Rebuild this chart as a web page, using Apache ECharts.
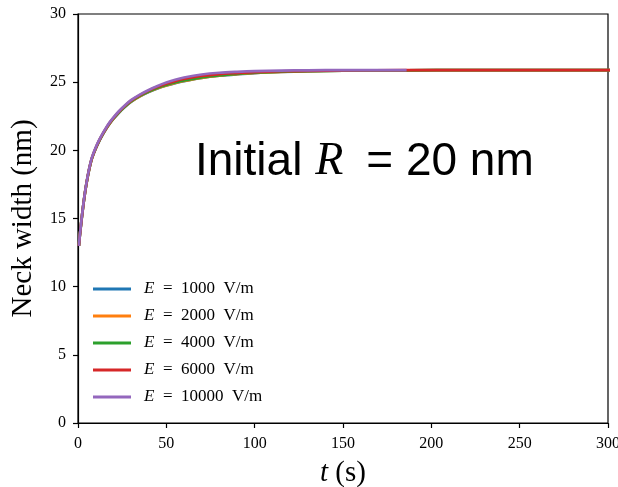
<!DOCTYPE html>
<html>
<head>
<meta charset="utf-8">
<script src="https://cdn.jsdelivr.net/npm/echarts@6/dist/echarts.min.js"></script>
<style>
  html, body { margin: 0; padding: 0; background: #fff; overflow: hidden; }
  #chart { width: 618px; height: 487px; }
</style>
</head>
<body>
<div id="chart"></div>
<script>
// Neck width growth over time for several applied fields (initial R = 20 nm)
const timeS = [0.5, 1, 2, 3, 4, 5, 6, 7, 8, 10, 12, 14, 16, 18, 20, 23, 26, 30, 35, 40, 45, 50, 55, 60, 70, 80, 90, 100, 115, 130, 150, 186, 220, 260, 300, 320];

const neckE1000  = [13.0, 13.7, 14.9, 15.98, 16.92, 17.71, 18.40, 18.98, 19.45, 20.12, 20.68, 21.16, 21.59, 21.97, 22.30, 22.74, 23.13, 23.56, 23.96, 24.28, 24.54, 24.75, 24.93, 25.08, 25.31, 25.47, 25.58, 25.67, 25.75, 25.80, 25.84, 25.87, 25.88, 25.88, 25.88, 25.88];
const neckE2000  = [13.0, 13.7, 14.9, 15.98, 16.92, 17.71, 18.40, 18.98, 19.45, 20.13, 20.69, 21.17, 21.60, 21.98, 22.31, 22.75, 23.14, 23.57, 23.97, 24.29, 24.55, 24.76, 24.94, 25.09, 25.32, 25.48, 25.59, 25.68, 25.76, 25.80, 25.84, 25.87, 25.88, 25.88, 25.88, 25.88];
const neckE4000  = [13.0, 13.7, 14.9, 15.98, 16.93, 17.72, 18.41, 18.99, 19.47, 20.14, 20.70, 21.18, 21.61, 21.99, 22.32, 22.76, 23.15, 23.59, 24.00, 24.32, 24.59, 24.80, 24.98, 25.12, 25.35, 25.50, 25.61, 25.69, 25.77, 25.81, 25.85, 25.87, 25.88, 25.88, 25.88, 25.88];
const neckE6000  = [13.0, 13.7, 14.9, 15.98, 16.93, 17.73, 18.43, 19.01, 19.48, 20.16, 20.73, 21.21, 21.64, 22.03, 22.36, 22.81, 23.20, 23.64, 24.05, 24.38, 24.66, 24.89, 25.08, 25.23, 25.45, 25.59, 25.67, 25.74, 25.80, 25.83, 25.86, 25.88, 25.88, 25.88, 25.88, 25.88];
const neckE10000 = [13.0, 13.72, 14.93, 16.02, 16.97, 17.76, 18.46, 19.05, 19.52, 20.20, 20.76, 21.25, 21.68, 22.07, 22.40, 22.85, 23.24, 23.68, 24.09, 24.43, 24.72, 24.97, 25.18, 25.34, 25.56, 25.69, 25.76, 25.81, 25.85, 25.87, 25.88, 25.89];

const seriesNames = ['E = 1000 V/m', 'E = 2000 V/m', 'E = 4000 V/m', 'E = 6000 V/m', 'E = 10000 V/m'];
const seriesValues = [neckE1000, neckE2000, neckE4000, neckE6000, neckE10000];
const seriesColors = ['#1f77b4', '#ff7f0e', '#2ca02c', '#d62728', '#9467bd'];

const xTicks = [0, 50, 100, 150, 200, 250, 300];
const yTicks = [0, 5, 10, 15, 20, 25, 30];

const SERIF = '"Liberation Serif", "DejaVu Serif", serif';
const SANS = '"Liberation Sans", Arial, sans-serif';

const chart = echarts.init(document.getElementById('chart'), null, { renderer: 'canvas' });

const series = seriesNames.map((name, k) => ({
  name: name,
  type: 'line',
  data: seriesValues[k].map((v, i) => [timeS[i], v]),
  showSymbol: false,
  smooth: 0.3,
  clip: false,
  color: seriesColors[k],
  lineStyle: { width: 2.7, color: seriesColors[k] },
  emphasis: { disabled: true }
}));

const axisCommon = {
  axisLine: { show: true, onZero: false, lineStyle: { color: '#000', width: 1.2 } },
  axisTick: { show: true, inside: false, length: 5, lineStyle: { color: '#000', width: 1.2 } },
  splitLine: { show: false },
};

chart.setOption({
  animation: false,
  backgroundColor: '#fff',
  grid: {
    left: 78, top: 14, right: 10, bottom: 64, containLabel: false,
    outerBoundsMode: 'none',
    show: true, borderColor: '#000', borderWidth: 1.2, backgroundColor: 'transparent'
  },
  xAxis: Object.assign({
    type: 'value',
    min: xTicks[0],
    max: xTicks[xTicks.length - 1],
    interval: 50,
    axisLabel: { color: '#000', fontFamily: SERIF, fontSize: 16, margin: 13 },
    name: '{i|t} (s)',
    nameLocation: 'middle',
    nameGap: 36,
    nameTextStyle: {
      color: '#000', fontFamily: SERIF, fontSize: 29,
      rich: { i: { fontStyle: 'italic', fontFamily: SERIF, fontSize: 29, color: '#000' } }
    }
  }, axisCommon),
  yAxis: Object.assign({
    type: 'value',
    min: yTicks[0],
    max: yTicks[yTicks.length - 1],
    interval: 5,
    axisLabel: { color: '#000', fontFamily: SERIF, fontSize: 16, margin: 12 },
    name: 'Neck width (nm)',
    nameLocation: 'middle',
    nameRotate: 90,
    nameGap: 40,
    nameTextStyle: { color: '#000', fontFamily: SERIF, fontSize: 29 }
  }, axisCommon),
  legend: {
    orient: 'vertical',
    left: 88,
    top: 275,
    itemWidth: 38,
    itemHeight: 3,
    itemGap: 9,
    icon: 'rect',
    data: seriesNames,
    formatter: n => '{i|E}{r|' + n.slice(1).replace(/ /g, '\u2002') + '}',
    textStyle: {
      color: '#000',
      lineHeight: 18,
      padding: [0, 0, 0, 8],
      rich: {
        i: { fontFamily: SERIF, fontStyle: 'italic', fontSize: 17, color: '#000' },
        r: { fontFamily: SERIF, fontSize: 17, color: '#000' }
      }
    }
  },
  graphic: [{
    type: 'text',
    left: 195,
    top: 139,
    silent: true,
    style: {
      text: '{a|Initial }{r|R}{a|\u2002= 20 nm}',
      rich: {
        a: { fontFamily: SANS, fontSize: 46, fill: '#000' },
        r: { fontFamily: SERIF, fontStyle: 'italic', fontSize: 46, fill: '#000' }
      }
    }
  }],
  series: series
});
</script>
</body>
</html>
